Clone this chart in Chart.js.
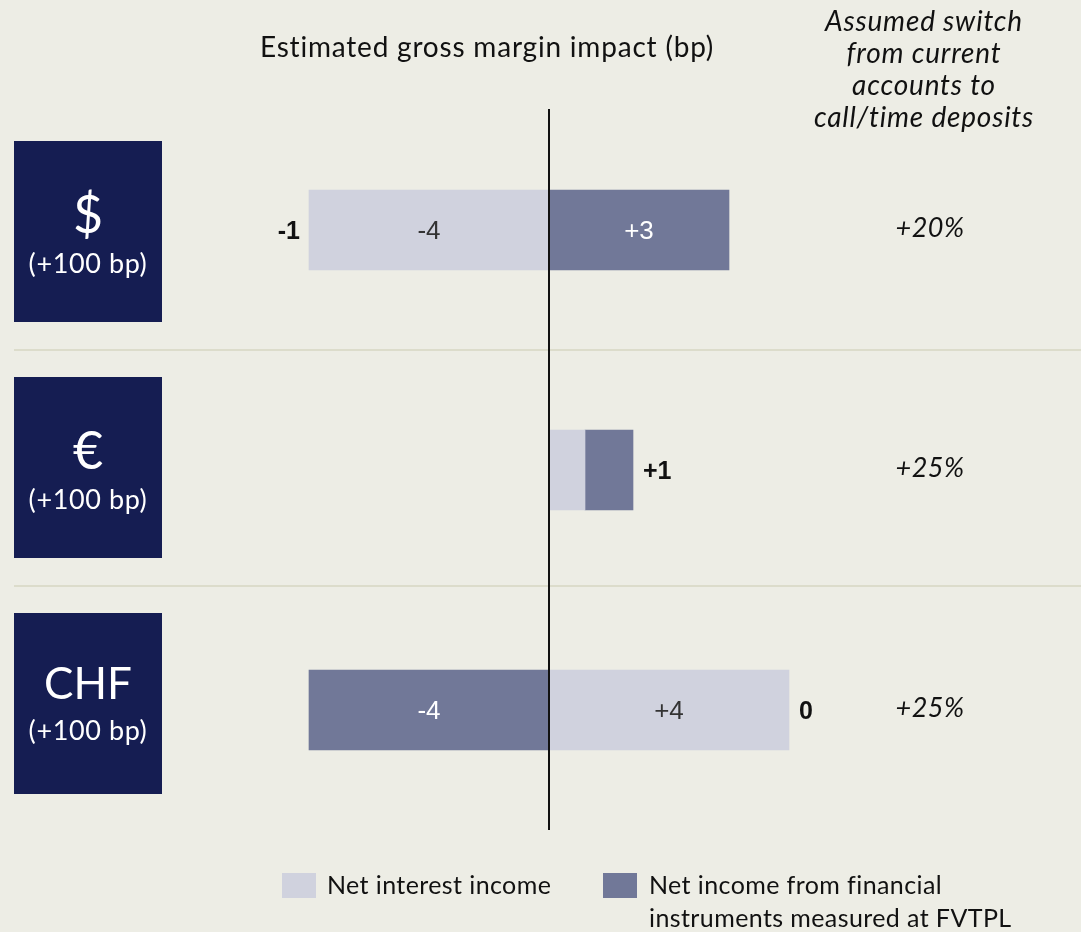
<!DOCTYPE html>
<html>
<head>
<meta charset="utf-8">
<script src="https://cdn.jsdelivr.net/npm/chart.js@4.4.1/dist/chart.umd.min.js"></script>
<style>
  html, body { margin: 0; padding: 0; background: #EDEDE5; }
  #wrap { width: 1081px; height: 932px; position: relative; }
</style>
</head>
<body>
<div id="wrap"><canvas id="c" width="1081" height="932"></canvas></div>
<script>
// ---- data ----
const categories = ['$', '€', 'CHF'];
const rateShock = ['(+100 bp)', '(+100 bp)', '(+100 bp)'];
const netInterestIncome = [-4, 0.6, 4];
const netIncomeFVTPL = [3, 0.8, -4];
const netInterestLabels = ['-4', '', '+4'];
const fvtplLabels = ['+3', '', '-4'];
const totalLabels = ['-1', '+1', '0'];
const switchAssumption = ['+20%', '+25%', '+25%'];
const seriesNames = ['Net interest income', 'Net income from financial instruments measured at FVTPL'];
const titleText = 'Estimated gross margin impact (bp)';
const switchHeader = ['Assumed switch', 'from current', 'accounts to', 'call/time deposits'];

const BG = '#EDEDE5';
const NAVY = '#151D52';
const LIGHT = '#D0D2DE';
const DARK = '#717898';

function setSpacing(ctx, px) {
  if ('letterSpacing' in ctx) ctx.letterSpacing = px + 'px';
}

const decorPlugin = {
  id: 'decor',
  beforeDatasetsDraw(chart) {
    const ctx = chart.ctx;
    const y = chart.scales.y;
    ctx.save();
    // separators
    ctx.strokeStyle = '#DCDCCB';
    ctx.lineWidth = 2;
    for (let i = 0; i < categories.length - 1; i++) {
      const yy = Math.round((y.getPixelForValue(i) + y.getPixelForValue(i + 1)) / 2) - 4 * i;
      ctx.beginPath();
      ctx.moveTo(14, yy);
      ctx.lineTo(1081, yy);
      ctx.stroke();
    }
    // navy boxes
    categories.forEach((c, i) => {
      const top = y.getPixelForValue(i) - 89 - 4 * i;
      const cy = top + 90.5;
      ctx.fillStyle = NAVY;
      ctx.fillRect(14, top, 148, 181);
      ctx.fillStyle = '#FFFFFF';
      ctx.textAlign = 'center';
      ctx.textBaseline = 'middle';
      setSpacing(ctx, 0);
      if (c === 'CHF') {
        ctx.font = '44px Lato';
        ctx.fillText(c, 88, cy - 19);
      } else {
        ctx.font = '52px Lato';
        ctx.fillText(c, 88, cy - 15);
      }
      ctx.font = '27px Lato';
      setSpacing(ctx, 0.6);
      ctx.fillText(rateShock[i], 88, cy + (c === 'CHF' ? 28 : 33));
    });
    ctx.restore();
  },
  afterDatasetsDraw(chart) {
    const ctx = chart.ctx;
    const x = chart.scales.x;
    const y = chart.scales.y;
    const area = chart.chartArea;
    ctx.save();
    // zero line
    const x0 = x.getPixelForValue(0);
    ctx.strokeStyle = '#111111';
    ctx.lineWidth = 2;
    ctx.beginPath();
    ctx.moveTo(x0, area.top - 1);
    ctx.lineTo(x0, area.bottom);
    ctx.stroke();

    // segment labels
    const segLabels = [netInterestLabels, fvtplLabels];
    const segColors = ['#333333', '#FFFFFF'];
    chart.data.datasets.forEach((ds, di) => {
      const meta = chart.getDatasetMeta(di);
      meta.data.forEach((bar, i) => {
        const t = segLabels[di][i];
        if (!t) return;
        const p = bar.getProps(['x', 'base', 'y'], true);
        ctx.fillStyle = segColors[di];
        ctx.font = '26px "Liberation Sans"';
        ctx.textAlign = 'center';
        ctx.textBaseline = 'middle';
        ctx.fillText(t, (p.x + p.base) / 2, p.y + 2);
      });
    });

    // totals
    categories.forEach((c, i) => {
      const vals = [netInterestIncome[i], netIncomeFVTPL[i]];
      const neg = vals.filter(v => v < 0).reduce((a, b) => a + b, 0);
      const pos = vals.filter(v => v > 0).reduce((a, b) => a + b, 0);
      const total = vals.reduce((a, b) => a + b, 0);
      const cy = y.getPixelForValue(i);
      ctx.fillStyle = '#111111';
      ctx.font = 'bold 25px "Liberation Sans"';
      ctx.textBaseline = 'middle';
      setSpacing(ctx, 0);
      if (total < -0.5) {
        ctx.textAlign = 'right';
        ctx.fillText(totalLabels[i], x.getPixelForValue(neg) - 9, cy + 2);
      } else {
        ctx.textAlign = 'left';
        ctx.fillText(totalLabels[i], x.getPixelForValue(pos) + 10, cy + 2);
      }
      // switch assumption
      ctx.font = 'italic 27px Lato';
      setSpacing(ctx, 0.5);
      ctx.textAlign = 'center';
      ctx.fillText(switchAssumption[i], 930, cy - 2);
    });

    // title
    ctx.fillStyle = '#111111';
    ctx.font = '28px Lato';
    setSpacing(ctx, 0.8);
    ctx.textAlign = 'center';
    ctx.fillText(titleText, 487, 48);
    // right header
    ctx.font = 'italic 28px Lato';
    setSpacing(ctx, 0.8);
    switchHeader.forEach((t, k) => {
      ctx.fillText(t, 924, 22 + k * 32);
    });

    // legend
    const ds = chart.data.datasets;
    ctx.textAlign = 'left';
    ctx.font = '25px Lato';
    setSpacing(ctx, 0.4);
    ctx.fillStyle = ds[0].backgroundColor;
    ctx.fillRect(282, 873, 34, 25);
    ctx.fillStyle = '#111111';
    ctx.fillText(ds[0].label, 327, 886);
    ctx.fillStyle = ds[1].backgroundColor;
    ctx.fillRect(603, 873, 34, 25);
    ctx.fillStyle = '#111111';
    ctx.fillText('Net income from financial', 649, 886);
    ctx.fillText('instruments measured at FVTPL', 649, 919);
    ctx.restore();
  }
};

new Chart(document.getElementById('c'), {
  type: 'bar',
  data: {
    labels: categories,
    datasets: [
      { label: seriesNames[0], data: netInterestIncome, backgroundColor: LIGHT, borderWidth: 0, barThickness: 80 },
      { label: seriesNames[1], data: netIncomeFVTPL, backgroundColor: DARK, borderWidth: 0, barThickness: 80 }
    ]
  },
  options: {
    indexAxis: 'y',
    responsive: false,
    animation: false,
    devicePixelRatio: 1,
    layout: { padding: { left: 189, right: 52, top: 110, bottom: 102 } },
    plugins: { legend: { display: false }, tooltip: { enabled: false } },
    scales: {
      x: { stacked: true, min: -6, max: 8, display: false },
      y: { stacked: true, display: false }
    }
  },
  plugins: [decorPlugin]
});
</script>
</body>
</html>
